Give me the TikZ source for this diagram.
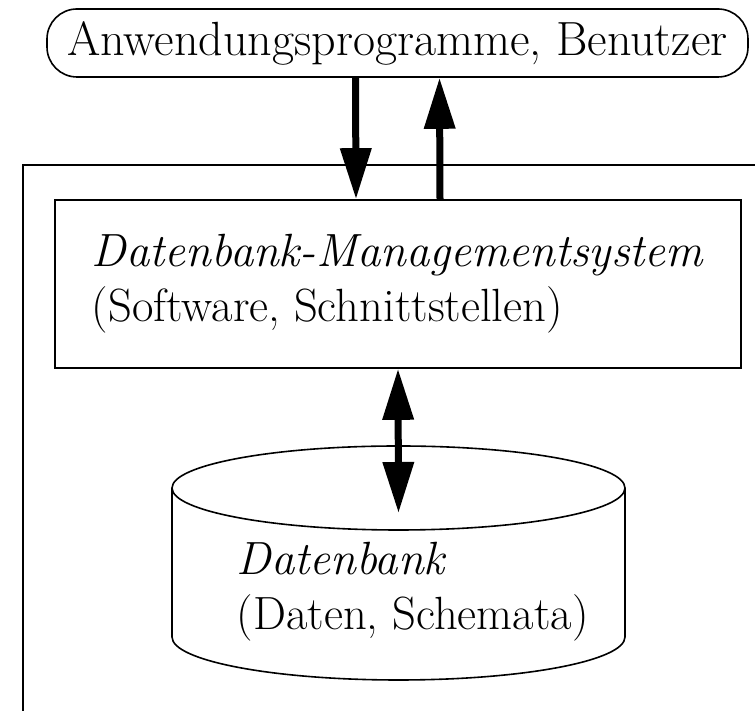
\documentclass[tikz,border=0pt]{standalone}
\usepackage{fontspec}
\usetikzlibrary{arrows.meta,calc}

\begin{document}
\begin{tikzpicture}[x=0.5pt,y=0.5pt,line width=0.8pt,
  txt/.style={font=\fontsize{23.3}{27.5}\selectfont},
  bigarrow/.style={line width=3.5pt,-{Triangle[length=25.5pt,width=15pt]}},
  bothtips/.style={{Triangle[length=25.5pt,width=15pt]}-{Triangle[length=25.5pt,width=15pt]}}]
\useasboundingbox (0,0) rectangle (755,711);

\node[txt,font=\fontsize{24}{27.5}\selectfont,draw,rounded corners=15pt,minimum width=350.5pt,minimum height=34pt,inner sep=0pt] (apps) at (397.5,668) {Anwendungsprogramme, Benutzer};

% open frame round the system
\draw (755,546) -- (23,546) -- (23,0);

\node[txt,draw,minimum width=343pt,minimum height=84pt,align=left] (dbms) at (398,427) {\textit{Datenbank-Managementsystem}\\(Software, Schnittstellen)};

\coordinate (dbtop) at (398.5,198);
\draw (172,223) -- (172,74) arc[start angle=180,end angle=360,x radius=113.25pt,y radius=21.5pt] -- (625,223);
\draw (398.5,223) ellipse [x radius=113.25pt,y radius=21pt];
\node[txt,align=left,anchor=north west,inner sep=0pt] (db) at (236,170) {\textit{Datenbank}\\(Daten, Schemata)};

\draw[bigarrow] ([xshift=-21pt]apps.south) -- ([xshift=-21pt]dbms.north);
\draw[bigarrow] ([xshift=21pt]dbms.north) -- ([xshift=21pt]apps.south);
\draw[bigarrow,bothtips] (dbms.south) -- (dbtop);

\end{tikzpicture}
\end{document}
